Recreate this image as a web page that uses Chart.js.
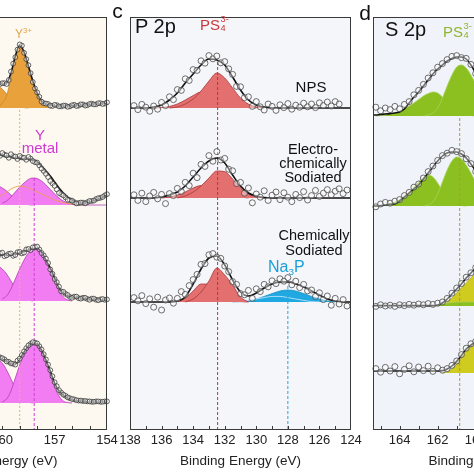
<!DOCTYPE html>
<html>
<head>
<meta charset="utf-8">
<script src="https://cdn.jsdelivr.net/npm/chart.js@4.4.1/dist/chart.umd.min.js"></script>
<style>
  html, body { margin: 0; padding: 0; background: #fff; }
  #wrap { position: relative; width: 474px; height: 474px; overflow: hidden;
          font-family: "Liberation Sans", Arial, sans-serif; }
  #wrap canvas { position: absolute; top: 0; }
  .lbl { position: absolute; white-space: nowrap; }
  .ss { display: inline-block; position: relative; width: 0.62em; height: 0; }
  .ss i { position: absolute; left: 0.5px; font-style: normal; font-size: 0.62em; line-height: 1; }
  .ss .hi { top: -1.6em; }
  .ss .lo { top: -0.64em; }
  .lbl sub { font-size: 0.62em; line-height: 0; vertical-align: -0.3em; }
  .lbl sup { font-size: 0.65em; line-height: 0; vertical-align: 0.65em; }
</style>
</head>
<body>
<div id="wrap">
  <canvas id="panelB" width="270" height="474" style="left:-140px"></canvas>
  <canvas id="panelC" width="260" height="474" style="left:110px"></canvas>
  <canvas id="panelD" width="270" height="474" style="left:350px"></canvas>
</div>
<script>
// ================================
// XPS panels: Y 3d (b), P 2p (c), S 2p (d)
// intensities are heights above each spectrum's baseline (a.u.)
// ================================

const FONT = '"Liberation Sans", Arial, sans-serif';

// ---- panel b : Y 3d (only right part visible) ----
const bEnergy = [160.5, 160.25, 160, 159.75, 159.5, 159.25, 159, 158.75, 158.5, 158.25, 158, 157.75, 157.5,
                 157.25, 157, 156.75, 156.5, 156.25, 156, 155.75, 155.5, 155.25, 155, 154.75, 154.5, 154.25, 154];
const bMidEnergy = [160.375, 160.125, 159.875, 159.625, 159.375, 159.125, 158.875, 158.625, 158.375, 158.125,
                    157.875, 157.625, 157.375, 157.125, 156.875, 156.625, 156.375, 156.125, 155.875, 155.625,
                    155.375, 155.125, 154.875, 154.625, 154.375, 154.125];
const bBaselines = [80.5, 56.25, 32.25, 6.75];
const bTicks = [166, 165, 164, 163, 162, 161, 160, 159, 158, 157, 156, 155, 154];
const bLabels = [166, 163, 160, 157, 154];
const bOxidePos = 159.0;
const bMetalPos = 158.17;

const b1Dots = [7.0, 6.3, 6.2, 6.0, 9.1, 12.7, 15.9, 13.8, 10.7, 6.5, 3.9, 1.6, 1.1, 0.6, 0.8, 0.4, 0.6, 0.3, 0.7, 0.5, 0.9, 0.6, 1.0, 0.9, 1.2, 1.0, 1.4];
const b1MidDots = [6.8, 6.0, 6.2, 7.0, 11.1, 14.6, 15.6, 12.2, 8.7, 4.9, 2.8, 1.2, 1.0, 0.5, 0.7, 0.4, 0.6, 0.4, 0.8, 0.6, 0.9, 0.7, 1.1, 0.9, 1.2, 1.1];
const b1Fit = [6.75, 6.5, 6, 6.25, 8.75, 13, 15.75, 14, 10.5, 6.75, 3.75, 1.75, 1, 0.75, 0.6, 0.5, 0.5, 0.5, 0.6, 0.6, 0.75, 0.75, 0.9, 1, 1, 1.1, 1.25];
const b1Oxide = [null, 0, 1.25, 3, 7.75, 12.5, 15.25, 13.5, 10, 6.25, 3.25, 1.25, 0.4, 0, null, null, null, null, null, null, null, null, null, null, null, null, null];
const b1OxideSplit = [6, 5.5, 4.75, 3.5, 2, 1, 0.4, 0.1, 0, null, null, null, null, null, null, null, null, null, null, null, null, null, null, null, null, null, null];

const b2Dots = [13.3, 12.7, 13.0, 12.4, 12.7, 12.1, 12.3, 11.8, 12.0, 11.0, 10.6, 9.1, 7.8, 6.0, 4.8, 3.0, 2.4, 1.3, 1.1, 0.4, 0.6, 0.4, 1.0, 1.1, 1.7, 2.0, 2.7];
const b2MidDots = [12.9, 12.3, 12.6, 11.8, 12.2, 11.5, 11.9, 11.3, 11.6, 10.7, 9.9, 8.5, 7.0, 5.4, 3.9, 2.7, 1.9, 1.2, 0.7, 0.5, 0.6, 0.7, 1.0, 1.5, 1.8, 2.4];
const b2Fit = [12.75, 12.5, 12.4, 12.1, 12, 11.75, 11.6, 11.5, 11.5, 11.25, 10.75, 9.75, 8.5, 7.25, 5.75, 4.25, 3, 2, 1.25, 0.75, 0.5, 0.5, 0.75, 1.1, 1.5, 2, 2.5];
const b2Metal = [null, null, 0.5, 1, 2, 3.25, 4.5, 5.5, 6.4, 6.75, 6.6, 6, 5, 3.9, 2.75, 1.75, 1, 0.5, 0.2, 0, 0, 0, 0, 0, 0, 0, 0];
const b2MetalSplit = [5, 4.75, 4.25, 3.5, 2.5, 1.6, 0.9, 0.4, 0.1, 0, null, null, null, null, null, null, null, null, null, null, null, null, null, null, null, null, null];
const b2Oxide = [1.75, 2.1, 2.5, 3.25, 4, 4.5, 4.75, 4.6, 4.25, 3.75, 3.25, 2.75, 2.25, 1.75, 1.25, 0.9, 0.6, 0.4, 0.25, 0.1, 0, null, null, null, null, null, null];

const b3Dots = [11.9, 11.2, 12.1, 11.4, 11.9, 11.5, 12.3, 12.1, 13.0, 13.4, 13.6, 12.0, 10.6, 7.9, 5.5, 3.6, 2.3, 1.5, 0.8, 1.1, 0.6, 0.8, 0.3, 0.6, 0.2, 0.5, 0.4];
const b3MidDots = [11.6, 11.9, 11.2, 11.8, 11.3, 12.2, 11.9, 12.9, 12.7, 13.5, 12.9, 11.4, 9.5, 6.8, 4.7, 2.4, 1.8, 1.0, 1.1, 0.7, 0.8, 0.5, 0.6, 0.3, 0.4, 0.3];
const b3Fit = [11.25, 11.5, 11.5, 11.5, 11.5, 11.75, 12, 12.4, 12.75, 13.1, 13.1, 12.25, 10.25, 8.25, 5.75, 3.25, 2, 1.25, 1, 0.9, 0.75, 0.6, 0.5, 0.4, 0.4, 0.25, 0.25];
const b3Metal = [null, null, 0.5, 1.25, 3, 5.5, 8, 10.25, 12, 13, 13.1, 12, 10, 7.5, 4.75, 2.5, 1, 0.25, 0, null, null, null, null, null, null, null, null];
const b3MetalSplit = [9, 8.75, 8, 6.75, 5, 3.25, 1.75, 0.75, 0.25, 0, null, null, null, null, null, null, null, null, null, null, null, null, null, null, null, null, null];

const b4Dots = [11.9, 11.7, 11.2, 10.4, 9.9, 9.6, 11.1, 12.9, 14.4, 15.2, 14.9, 13.4, 10.9, 8.2, 5.2, 3.2, 2.1, 1.4, 1.0, 0.7, 0.6, 0.5, 0.4, 0.3, 0.4, 0.3, 0.4];
const b4MidDots = [11.8, 11.4, 10.9, 10.3, 9.8, 10.6, 12.0, 13.7, 14.8, 15.1, 14.2, 12.2, 9.6, 6.7, 4.2, 2.6, 1.8, 1.2, 0.9, 0.6, 0.5, 0.4, 0.3, 0.4, 0.3, 0.4];
const b4Fit = [11.75, 11.5, 11, 10.5, 9.75, 9.75, 11, 12.75, 14.25, 15, 14.75, 13.25, 10.75, 8, 5, 3, 2, 1.25, 0.9, 0.6, 0.5, 0.4, 0.25, 0.25, 0.25, 0.25, 0.25];
const b4Metal = [null, null, 0.25, 1, 3, 6.25, 9.5, 12.25, 14.25, 15, 14.5, 12.75, 10, 7, 4, 1.75, 0.5, 0.1, 0, null, null, null, null, null, null, null, null];
const b4MetalSplit = [11, 10.75, 10, 8.25, 6, 3.75, 2, 0.9, 0.25, 0, null, null, null, null, null, null, null, null, null, null, null, null, null, null, null, null, null];

// ---- panel c : P 2p ----
const cEnergy = [138, 137.5, 137, 136.5, 136, 135.5, 135, 134.5, 134, 133.5, 133, 132.5, 132, 131.5, 131,
                 130.5, 130, 129.5, 129, 128.5, 128, 127.5, 127, 126.5, 126, 125.5, 125, 124.5, 124];
const cDotEnergy = [137.75, 137.5, 137.25, 137, 136.75, 136.5, 136.25, 136, 135.75, 135.5, 135.25, 135, 134.75,
                    134.5, 134.25, 134, 133.75, 133.5, 133.25, 133, 132.75, 132.5, 132.25, 132, 131.75, 131.5,
                    131.25, 131, 130.75, 130.5, 130.25, 130, 129.75, 129.5, 129.25, 129, 128.75, 128.5, 128.25,
                    128, 127.75, 127.5, 127.25, 127, 126.75, 126.5, 126.25, 126, 125.75, 125.5, 125.25, 125,
                    124.75, 124.5, 124.25];
const cBaselines = [80.5, 58, 32];
const cTicks = [138, 137, 136, 135, 134, 133, 132, 131, 130, 129, 128, 127, 126, 125, 124];
const cLabels = [138, 136, 134, 132, 130, 128, 126, 124];
const ps4Pos = 132.45;
const na3pPos = 128.0;

const npsDots = [0.6, -0.4, 0.9, 0.2, -0.8, 0.5, -0.3, 1.4, 0.6, 2.8, 2.1, 4.6, 4.4, 7.3, 6.9, 9.6, 9.4, 11.8, 11.2,
                 13.1, 12.3, 13.0, 11.3, 11.6, 9.8, 8.4, 5.4, 5.3, 2.6, 2.8, 0.4, 1.6, 0.3, -0.5, 1.0, 0.4, -0.6,
                 0.8, 0.1, 1.1, -0.3, 0.7, 0.2, 1.2, 0.3, 1.0, 0.1, 1.3, 0.6, 1.5, 0.5, 1.6, 1.0, null, null];
const npsFit = [0, 0, 0, 0.25, 0.75, 2, 3.75, 6.25, 8.5, 10.75, 12.25, 12, 10.75, 7.75, 4.5, 2, 0.75, 0.25, 0, 0, 0, 0, 0, 0, 0, 0, 0, 0, 0];
const npsMain = [null, null, null, null, null, 0, 0.25, 1, 2.25, 4.25, 6.75, 8.75, 7.5, 5, 2.5, 1, 0.25, 0, null, null, null, null, null, null, null, null, null, null, null];
const npsSplit = [null, null, null, 0, 0.1, 0.4, 1, 2, 3.1, 4, 3.75, 2.9, 1.75, 0.9, 0.4, 0.1, 0, null, null, null, null, null, null, null, null, null, null, null, null];

const ecDots = [0.8, -0.6, 1.2, -0.9, 0.5, 1.4, -0.2, 0.9, -1.4, 1.1, 0.6, 2.4, 1.6, 3.9, 3.1, 6.2, 5.1, 8.4, 7.9,
                10.6, 9.2, 11.6, 9.5, 9.9, 7.2, 6.8, 3.6, 3.9, 1.2, 2.5, -1.2, 1.0, 0.2, 1.8, -0.6, 0.7, 1.5,
                -0.4, 1.3, 0.2, -0.9, 0.9, 0.1, 1.6, -0.5, 0.6, 1.9, 0.4, 1.2, 2.1, 0.8, 1.7, 2.3, 1.1, 2.0];
const ecFit = [0, 0, 0, 0, 0.25, 0.75, 1.5, 3, 5.25, 7.5, 9.25, 10, 8.75, 5.75, 3, 1.25, 0.5, 0.1, 0, 0, 0, 0, 0, 0, 0, 0, 0, 0, 0];
const ecMain = [null, null, null, null, null, null, 0, 0.5, 1.5, 3, 5, 6.75, 6.6, 4.75, 2.5, 1, 0.25, 0, null, null, null, null, null, null, null, null, null, null, null];
const ecSplit = [null, null, null, null, 0, 0.25, 0.75, 1.5, 2.5, 3.1, 3.1, 2.5, 1.5, 0.75, 0.25, 0, null, null, null, null, null, null, null, null, null, null, null, null, null];

const chDots = [1.1, 0.3, 1.6, -0.4, 0.8, -1.3, 1.2, -2.0, 0.5, 1.0, -0.3, 0.9, 2.6, 1.9, 4.1, 5.6, 6.9, 9.4, 9.6,
                11.8, 12.1, 11.2, 10.9, 9.0, 7.6, 5.1, 4.4, 2.1, 1.8, 2.9, 0.9, 3.3, 2.6, 4.4, 3.8, 5.3, 4.6,
                5.8, 5.2, 6.1, 4.3, 5.2, 3.6, 4.4, 2.8, 3.0, 1.4, 2.3, 0.6, 1.5, -0.8, 0.9, -0.5, 0.6, -1.0];
const chFit = [0, 0, 0, 0, 0, 0, 0.25, 1.25, 4.5, 8.25, 11, 11.5, 9.25, 5.5, 2.5, 1.5, 2.25, 3.5, 4.5, 5, 5, 4.5, 3.75, 2.75, 1.75, 0.75, 0.25, 0, 0];
const chMain = [null, null, null, null, null, null, null, 0, 0.75, 2.5, 5.25, 8.5, 6.75, 4.25, 1.25, 0, null, null, null, null, null, null, null, null, null, null, null, null, null];
const chSplit = [null, null, null, null, null, 0, 0.25, 1, 2.75, 4.5, 4.5, 3, 1.5, 0.5, 0.1, 0, null, null, null, null, null, null, null, null, null, null, null, null, null];
const na3pMain = [null, null, null, null, null, null, null, null, null, null, null, null, null, 0, 0.1, 0.4, 0.75, 1.4, 2.1, 2.75, 3, 2.75, 2.1, 1.4, 0.75, 0.25, 0, null, null];
const na3pSplit = [null, null, null, null, null, null, null, null, null, null, null, null, null, 0, 0.1, 0.4, 0.75, 1.1, 1.4, 1.4, 1.1, 0.75, 0.4, 0.1, 0, null, null, null, null];

// ---- panel d : S 2p (only left part visible) ----
const dEnergy = [165.5, 165.25, 165, 164.75, 164.5, 164.25, 164, 163.75, 163.5, 163.25, 163, 162.75,
                 162.5, 162.25, 162, 161.75, 161.5, 161.25, 161, 160.75, 160.5, 160.25, 160, 159.75];
const dBaselines = [78.5, 56, 31, 14.25];
const dTicks = [165, 164, 163, 162, 161, 160, 159, 158, 157, 156, 155, 154];
const dLabels = [164, 162, 160, 158, 156, 154];
const dPs4Pos = 160.84;

const d1Dots = [null, 2.2, 1.3, 2.0, 1.6, 2.4, 1.8, 2.9, 3.6, 5.3, 6.4, 7.9, 9.5, 10.8, 12.2, 13.1, 14.1, 14.9, 15.1, 14.6, 14.4, 12.9, 10.6, 8.9];
const d1Fit = [0.25, 0.25, 0.4, 0.5, 0.6, 0.75, 1, 1.75, 3.25, 4.75, 6, 7.5, 9, 10.5, 11.75, 12.75, 13.75, 14.4, 14.75, 14.75, 14.25, 12.75, 10.75, 8.75];
const d1Main = [null, null, null, null, null, null, null, null, null, null, null, 0, 0.25, 0.75, 2, 4.5, 7.5, 10.25, 12.25, 12.75, 12, 10.25, 8, 5.75];
const d1Split = [null, 0, 0.1, 0.25, 0.5, 0.75, 1.25, 1.75, 2.5, 3.25, 4.1, 5, 5.6, 6, 5.75, 4.75, 3.5, 2.25, 1.25, 0.6, 0.25, 0.1, 0, null];

const d2Dots = [null, -0.2, 0.5, 0.9, 0.7, 1.2, 1.6, 2.6, 3.4, 4.7, 5.5, 7.0, 8.6, 10.0, 11.4, 12.6, 13.2, 13.9, 13.6, 13.1, 11.8, 10.6, 8.6, 7.2];
const d2Fit = [0, 0, 0.1, 0.25, 0.4, 0.5, 1.25, 2.25, 3.25, 4.25, 5.25, 6.75, 8.25, 9.75, 11.25, 12.5, 13.25, 13.5, 13.5, 13, 12, 10.5, 8.75, 7];
const d2Main = [null, null, null, null, null, null, null, null, null, null, null, 0, 0.25, 1, 3, 6, 9, 11.25, 12.25, 11.75, 10.25, 8.25, 6, 4];
const d2Split = [null, 0, 0.1, 0.25, 0.6, 1, 1.6, 2.5, 3.5, 4.75, 6, 7.1, 7.75, 7.25, 5.75, 3.75, 2, 1, 0.5, 0.1, 0, null, null, null];
const d2Sulfide = [null, null, null, null, null, null, null, null, null, null, null, null, null, null, null, null, null, null, null, null, 0, 0.75, 2, 3];

const d3Dots = [null, -0.1, 0.3, 0, 0.2, -0.1, 0.3, 0.1, 0.4, 0.2, 0.5, 0.3, 0.6, 0.4, 0.7, 1.0, 1.9, 3.2, 4.5, 5.6, 7.2, 8.3, 9.6, 10.4];
const d3Fit = [0.1, 0.1, 0.1, 0.1, 0.1, 0.1, 0.1, 0.1, 0.1, 0.1, 0.1, 0.1, 0.1, 0.1, 0.25, 0.75, 1.75, 3, 4.25, 5.5, 7, 8.25, 9.5, 10.5];
const d3Sulfide = [null, null, null, null, null, null, null, null, null, null, null, null, null, null, 0, 0.25, 1, 2, 3.25, 4.5, 5.75, 7, 8.25, 9.25];
const d3Thio = [null, null, null, null, null, null, null, null, null, null, null, null, 0, 0.1, 0.25, 0.5, 0.75, 0.9, 1, 1, 1, 1, 1, 1];

const d4Dots = [null, 1.1, 0.2, 1.4, 0.5, 1.6, -0.2, 0.9, 1.8, 0.3, 1.5, 0.6, 1.7, 0.4, 1.3, 0.7, 1.1, 1.9, 3.0, 4.6, 6.2, 7.3, 7.9, 8.4];
const d4Fit = [0.5, 0.5, 0.5, 0.5, 0.5, 0.5, 0.5, 0.5, 0.5, 0.5, 0.5, 0.5, 0.5, 0.5, 0.5, 0.6, 1, 1.75, 2.9, 4.4, 6, 7, 7.75, 8.25];
const d4Sulfide = [null, null, null, null, null, null, null, null, null, null, null, null, null, null, null, 0, 0.25, 1, 2.25, 3.75, 5.5, 6.5, 7.25, 7.75];

// ================================
// helpers
// ================================
Chart.defaults.font.family = FONT;

function pts(energy, values, base) {
    return energy.map((e, i) => ({ x: e, y: values[i] === null ? null : base + values[i] }));
}

function dots(energy, values, base, r, edge) {
    return {
        data: pts(energy, values, base), showLine: false, clip: false,
        pointRadius: r, pointBorderWidth: 0.8, pointBorderColor: edge || '#4a4a4a',
        pointBackgroundColor: 'rgba(255,255,255,0.4)'
    };
}

function fitLine(energy, values, base) {
    return {
        data: pts(energy, values, base), borderColor: '#111', borderWidth: 1.6,
        pointRadius: 0, cubicInterpolationMode: 'monotone', fill: false
    };
}

function band(energy, values, base, fillColor, lineColor) {
    return {
        data: pts(energy, values, base), borderColor: lineColor, borderWidth: 0.8,
        backgroundColor: fillColor, pointRadius: 0, cubicInterpolationMode: 'monotone',
        fill: { value: base }
    };
}

function thin(energy, values, base, color) {
    return {
        data: pts(energy, values, base), borderColor: color, borderWidth: 0.9,
        pointRadius: 0, cubicInterpolationMode: 'monotone', fill: false
    };
}

function marker(pos, top, color, dash) {
    return {
        data: [{ x: pos, y: top }, { x: pos, y: 0 }], borderColor: color, borderWidth: 1,
        borderDash: dash, pointRadius: 0, fill: false
    };
}

// frame, background and inward tick marks
const framePlugin = {
    id: 'frame',
    beforeDraw(chart, args, opts) {
        const { ctx, chartArea: a } = chart;
        ctx.save();
        ctx.fillStyle = opts.bg;
        ctx.fillRect(a.left, a.top, a.right - a.left, a.bottom - a.top);
        ctx.restore();
    },
    afterDraw(chart) {
        const { ctx, chartArea: a } = chart;
        const x = chart.scales.x;
        ctx.save();
        ctx.strokeStyle = '#3a3a3a';
        ctx.lineWidth = 1;
        ctx.strokeRect(a.left + 0.5, a.top + 0.5, a.right - a.left - 1, a.bottom - a.top - 1);
        x.ticks.forEach(t => {
            const px = Math.round(x.getPixelForValue(t.value)) + 0.5;
            if (px < a.left || px > a.right) return;
            ctx.beginPath();
            ctx.moveTo(px, a.bottom);
            ctx.lineTo(px, a.bottom - 4);
            ctx.stroke();
        });
        ctx.restore();
    }
};

function xAxis(min, max, tickList, labelList) {
    return {
        type: 'linear', reverse: true, min: min, max: max,
        afterBuildTicks: (axis) => { axis.ticks = tickList.map(v => ({ value: v })); },
        afterFit: (axis) => { axis.height = 44; },
        grid: { display: false, drawTicks: false },
        border: { display: false },
        ticks: {
            autoSkip: false, maxRotation: 0, padding: 3, color: '#222',
            font: { size: 13 },
            callback: (v) => labelList.includes(v) ? String(v) : ''
        },
        title: {
            display: true, text: 'Binding Energy (eV)', color: '#222',
            font: { size: 13.5 }, padding: { top: 2, bottom: 5 }
        }
    };
}

function makeChart(id, datasets, scaleX, bg, padLeft, padRight) {
    return new Chart(document.getElementById(id), {
        type: 'line',
        data: { datasets: datasets },
        options: {
            responsive: false, animation: false, events: [],
            layout: { padding: { left: padLeft, right: padRight, top: 17, bottom: 0 } },
            plugins: { legend: { display: false }, tooltip: { enabled: false }, frame: { bg: bg } },
            scales: { x: scaleX, y: { display: false, min: 0, max: 103.25 } }
        },
        plugins: [framePlugin]
    });
}

// ================================
// panel b
// ================================
const ORANGE = '#e9a23b', MAGENTA = '#f27cf2', MAG_LINE = '#b23cb2', B_EDGE = '#3c3c3c';
makeChart('panelB', [
    dots(bEnergy, b1Dots, bBaselines[0], 2.4, B_EDGE),
    dots(bMidEnergy, b1MidDots, bBaselines[0], 2.4, B_EDGE),
    dots(bEnergy, b2Dots, bBaselines[1], 2.4, B_EDGE),
    dots(bMidEnergy, b2MidDots, bBaselines[1], 2.4, B_EDGE),
    dots(bEnergy, b3Dots, bBaselines[2], 2.4, B_EDGE),
    dots(bMidEnergy, b3MidDots, bBaselines[2], 2.4, B_EDGE),
    dots(bEnergy, b4Dots, bBaselines[3], 2.4, B_EDGE),
    dots(bMidEnergy, b4MidDots, bBaselines[3], 2.4, B_EDGE),
    fitLine(bEnergy, b1Fit, bBaselines[0]),
    fitLine(bEnergy, b2Fit, bBaselines[1]),
    fitLine(bEnergy, b3Fit, bBaselines[2]),
    fitLine(bEnergy, b4Fit, bBaselines[3]),
    marker(bOxidePos, 80, '#e2b46a', [2, 2]),
    marker(bMetalPos, 63, '#d43ad4', [3, 2]),
    thin(bEnergy, b2Oxide, bBaselines[1], '#e8a24e'),
    band(bEnergy, b1Oxide, bBaselines[0], ORANGE, '#c98422'),
    band(bEnergy, b1OxideSplit, bBaselines[0], ORANGE, '#c98422'),
    band(bEnergy, b2Metal, bBaselines[1], MAGENTA, MAG_LINE),
    band(bEnergy, b2MetalSplit, bBaselines[1], MAGENTA, MAG_LINE),
    band(bEnergy, b3Metal, bBaselines[2], MAGENTA, MAG_LINE),
    band(bEnergy, b3MetalSplit, bBaselines[2], MAGENTA, MAG_LINE),
    band(bEnergy, b4Metal, bBaselines[3], MAGENTA, MAG_LINE),
    band(bEnergy, b4MetalSplit, bBaselines[3], MAGENTA, MAG_LINE)
], xAxis(154, 166.6, bTicks, bLabels), '#fdf9f1', 27, 23);

// ================================
// panel c
// ================================
const RED = '#e36f6f', RED_LINE = '#a8393b', BLUE = '#1fa8e2';
makeChart('panelC', [
    dots(cDotEnergy, npsDots, cBaselines[0], 3),
    dots(cDotEnergy, ecDots, cBaselines[1], 3),
    dots(cDotEnergy, chDots, cBaselines[2], 3),
    fitLine(cEnergy, npsFit, cBaselines[0]),
    fitLine(cEnergy, ecFit, cBaselines[1]),
    fitLine(cEnergy, chFit, cBaselines[2]),
    marker(ps4Pos, 92, '#c4303a', [3, 2]),
    marker(na3pPos, 36, '#2aa6dc', [3, 2]),
    band(cEnergy, npsMain, cBaselines[0], RED, RED_LINE),
    band(cEnergy, npsSplit, cBaselines[0], RED, RED_LINE),
    band(cEnergy, ecMain, cBaselines[1], RED, RED_LINE),
    band(cEnergy, ecSplit, cBaselines[1], RED, RED_LINE),
    band(cEnergy, chMain, cBaselines[2], RED, RED_LINE),
    band(cEnergy, chSplit, cBaselines[2], RED, RED_LINE),
    band(cEnergy, na3pSplit, cBaselines[2], BLUE, 'rgba(255,255,255,0.8)'),
    band(cEnergy, na3pMain, cBaselines[2], BLUE, '#1890c8')
], xAxis(124, 138, cTicks, cLabels), '#f5f6fa', 20, 19);

// ================================
// panel d
// ================================
const GREEN = '#8cc021', GREEN_LINE = '#a8d25a', YELLOW = '#d0cb1f';
makeChart('panelD', [
    dots(dEnergy, d1Dots, dBaselines[0], 3),
    dots(dEnergy, d2Dots, dBaselines[1], 3),
    dots(dEnergy, d3Dots, dBaselines[2], 3),
    dots(dEnergy, d4Dots, dBaselines[3], 3),
    fitLine(dEnergy, d1Fit, dBaselines[0]),
    fitLine(dEnergy, d2Fit, dBaselines[1]),
    fitLine(dEnergy, d3Fit, dBaselines[2]),
    fitLine(dEnergy, d4Fit, dBaselines[3]),
    marker(dPs4Pos, 78, '#a99b35', [3, 2]),
    band(dEnergy, d1Main, dBaselines[0], GREEN, GREEN_LINE),
    band(dEnergy, d1Split, dBaselines[0], GREEN, GREEN_LINE),
    band(dEnergy, d2Main, dBaselines[1], GREEN, GREEN_LINE),
    band(dEnergy, d2Split, dBaselines[1], GREEN, GREEN_LINE),
    band(dEnergy, d2Sulfide, dBaselines[1], YELLOW, '#b8b31a'),
    band(dEnergy, d3Thio, dBaselines[2], GREEN, GREEN_LINE),
    band(dEnergy, d3Sulfide, dBaselines[2], YELLOW, '#b8b31a'),
    band(dEnergy, d4Sulfide, dBaselines[3], YELLOW, '#b8b31a')
], xAxis(153.2, 165.4, dTicks, dLabels), '#f0f4fa', 23, 15);

// ================================
// text labels
// ================================
const wrap = document.getElementById('wrap');

function note(html, x, baseline, size, color, align, lineHeight) {
    const lh = lineHeight || size;
    const el = document.createElement('div');
    el.className = 'lbl';
    el.innerHTML = html;
    el.style.fontSize = size + 'px';
    el.style.lineHeight = lh + 'px';
    el.style.color = color;
    el.style.left = x + 'px';
    el.style.top = (baseline - lh / 2 - 0.3465 * size) + 'px';
    if (align === 'center') {
        el.style.transform = 'translateX(-50%)';
        el.style.textAlign = 'center';
    }
    wrap.appendChild(el);
}

const PS4 = 'PS<span class="ss"><i class="hi">3-</i><i class="lo">4</i></span>';

note('Y<sup>3+</sup>', 15, 38, 12, '#e0a64a', 'left');
note('Y<br>metal', 40, 140.5, 15, '#d238d2', 'center', 12.5);

note('c', 117.5, 18, 21, '#111', 'center');
note('P 2p', 135, 33, 20, '#111', 'left');
note(PS4, 200, 30, 15, '#c9383a', 'left');
note('NPS', 311, 92, 15, '#111', 'center');
note('Electro-<br>chemically<br>Sodiated', 313, 154, 14.5, '#111', 'center', 14);
note('Chemically<br>Sodiated', 314, 241, 14.5, '#111', 'center', 15);
note('Na<sub>3</sub>P', 268, 273, 16, '#1b9fd9', 'left');

note('d', 365, 20, 21, '#111', 'center');
note('S 2p', 385, 36, 20, '#111', 'left');
note(PS4, 443, 37, 15, '#8fb52f', 'left');
</script>
</body>
</html>
